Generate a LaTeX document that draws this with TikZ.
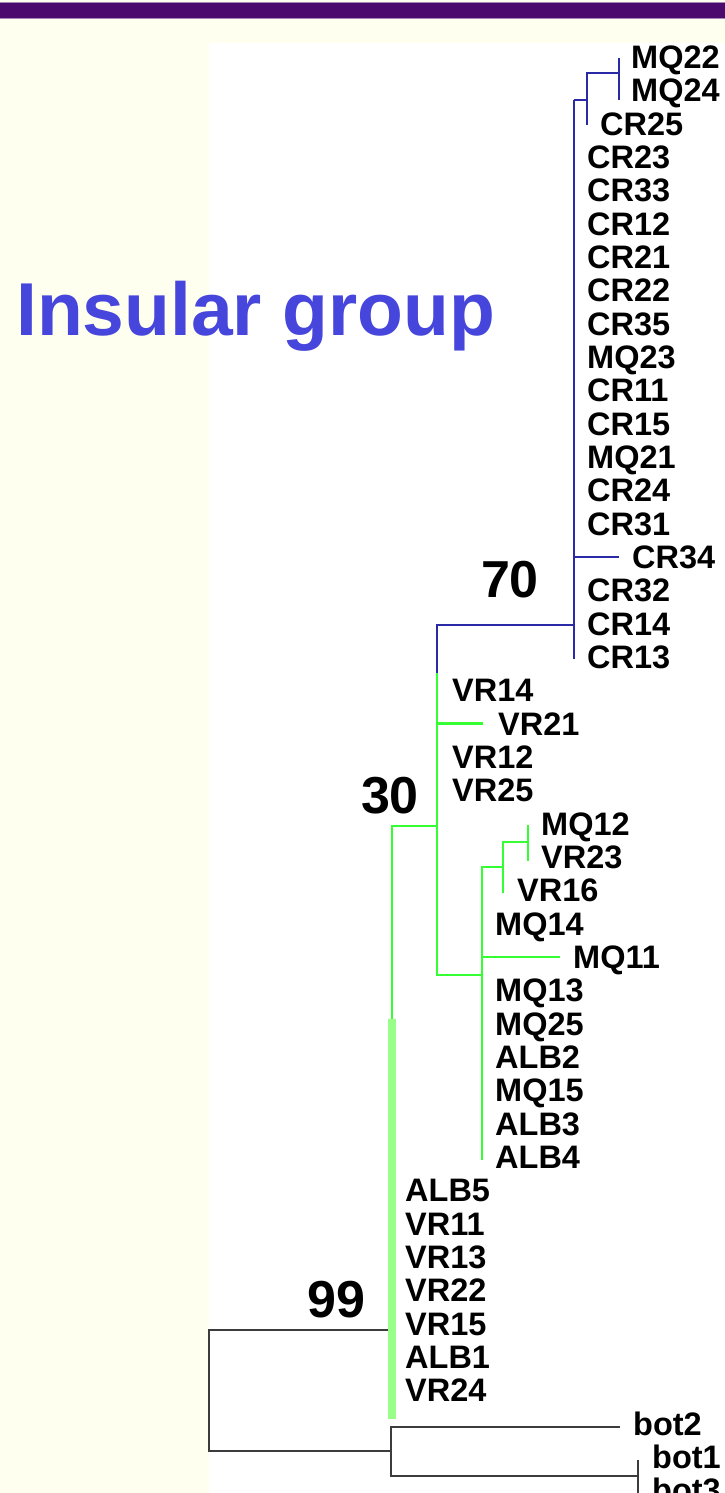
\documentclass[tikz,border=0pt]{standalone}
\usepackage{fontspec}
\setmainfont{Liberation Sans}
\usepackage{tikz}
\usetikzlibrary{calc}
\definecolor{barpurple}{HTML}{4A0A6E}
\definecolor{baredge}{HTML}{A786B8}
\definecolor{slidebg}{HTML}{FFFFF0}
\definecolor{titleblue}{HTML}{4646DC}
\definecolor{cladeblue}{HTML}{2A2AA6}
\definecolor{cladegreen}{HTML}{33FF33}
\definecolor{basegreen}{HTML}{99FF88}
\definecolor{outgray}{HTML}{3C3C3C}

\begin{document}
\begin{tikzpicture}[x=1pt, y=-1pt,
    leaf/.style={anchor=west, inner sep=0pt, text height=23pt, text depth=0pt,
      font=\fontsize{32.5}{34}\selectfont\bfseries},
    bootval/.style={anchor=base, inner sep=0pt, font=\fontsize{52}{56}\selectfont\bfseries},
    blueln/.style={draw=cladeblue, line width=2pt},
    greenln/.style={draw=cladegreen, line width=2.4pt},
    grayln/.style={draw=outgray, line width=2pt}]
    \useasboundingbox (0,0) rectangle (725,1493);

    % slide background
    \fill[slidebg] (0,0) rectangle (725,1493);
    \fill[barpurple] (0,3) rectangle (725,18);
    \draw[baredge, line width=1pt] (0,2.5) -- (725,2.5) (0,18.5) -- (725,18.5);
    \fill[white] (209,43) rectangle (725,1493);

    \node[anchor=base west, inner sep=0pt, text=titleblue,
      font=\fontsize{75}{80}\selectfont\bfseries] (title) at (16,335) {Insular group};

    % leaves, one row each
    \foreach \lab/\lx [count=\i from 0] in {MQ22/631, MQ24/631, CR25/600, CR23/587,
        CR33/587, CR12/587, CR21/587, CR22/587, CR35/587, MQ23/587, CR11/587,
        CR15/587, MQ21/587, CR24/587, CR31/587, CR34/632, CR32/587, CR14/587,
        CR13/587, VR14/452, VR21/498, VR12/452, VR25/452, MQ12/541, VR23/541,
        VR16/517, MQ14/495, MQ11/573, MQ13/495, MQ25/495, ALB2/495, MQ15/495,
        ALB3/495, ALB4/495, ALB5/405, VR11/405, VR13/405, VR22/405, VR15/405,
        ALB1/405, VR24/405, bot2/633, bot1/652, bot3/652}
      \node[leaf] (\lab) at (\lx,{57+33.33*\i}) {\lab};

    % internal nodes
    \coordinate (nMQa) at (619,58);
    \coordinate (nMQb) at (619,100);
    \coordinate (nMQ) at (619,73);
    \coordinate (nCR25) at (587,125);
    \coordinate (n70a) at (574,100);
    \coordinate (n70b) at (574,659);
    \coordinate (n70) at (574,625);
    \coordinate (n30a) at (437,625);
    \coordinate (n30b) at (437,673);
    \coordinate (n30c) at (437,975);
    \coordinate (n30) at (437,826);
    \coordinate (nMix) at (482,975);
    \coordinate (nMixEnd) at (482,1160);
    \coordinate (nVR16) at (503,867);
    \coordinate (nVR16End) at (503,893);
    \coordinate (nMQ12) at (528,842);
    \coordinate (nMQ12a) at (528,825);
    \coordinate (nMQ12b) at (528,861);
    \coordinate (insTop) at (392,826);
    \coordinate (insMid) at (392,1019);
    \coordinate (insEnd) at (392,1419);
    \coordinate (nIns) at (388,1330);
    \coordinate (nRoot) at (209,1451);
    \coordinate (nBot) at (391,1451);
    \coordinate (nBot13) at (638,1476);
    \coordinate (nBot13a) at (638,1460);
    \coordinate (nBot13b) at (638,1495);

    % insular clade (blue)
    \draw[blueln] (nMQa) -- (nMQb);
    \draw[blueln] (nMQ) -| (nCR25);
    \draw[blueln] (n70a) -- (n70b);
    \draw[blueln] (n70a) -- (n70a -| nCR25);
    \draw[blueln] (n70 |- CR34) -- ($(CR34.west)+(-13,0)$);
    \draw[blueln] (n70) -- (n30a) -- (n30b);

    % continental clade (green)
    \draw[greenln] (n30b) -- (n30c) -- (nMix);
    \draw[greenln] (n30a |- VR21) -- ($(VR21.west)+(-15,0)$);
    \draw[greenln] (nVR16) -| (nMixEnd);
    \draw[greenln] (nMix |- MQ11) -- ($(MQ11.west)+(-13,0)$);
    \draw[greenln] (nMQ12) -| (nVR16End);
    \draw[greenln] (nMQ12a) -- (nMQ12b);
    \draw[greenln] (n30) -- (insTop) -- (insMid);

    % outgroup
    \draw[grayln] (nIns) -| (nRoot) -- (nBot);
    \draw[grayln] ($(bot2.west)+(-13,3)$) -| (nBot) |- (nBot13);
    \draw[grayln] (nBot13a) -- (nBot13b);
    \draw[basegreen, line width=8pt] (insMid) -- (insEnd);

    % bootstrap values
    \node[bootval] (bs70) at (510,597) {70};
    \node[bootval] (bs30) at (390,813) {30};
    \node[bootval] (bs99) at (336.5,1317) {99};
\end{tikzpicture}
\end{document}
